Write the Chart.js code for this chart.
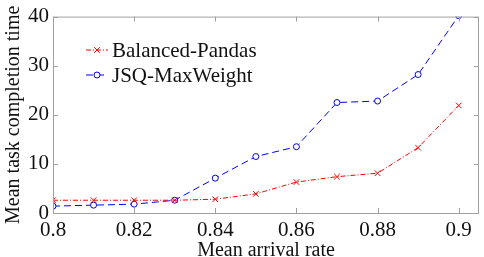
<!DOCTYPE html>
<html>
<head>
<meta charset="utf-8">
<script src="https://cdn.jsdelivr.net/npm/chart.js@4.4.1/dist/chart.umd.min.js"></script>
<style>
  html, body { margin: 0; padding: 0; background: #fff; }
  #wrap { width: 484px; height: 257px; }
</style>
</head>
<body>
<div id="wrap"><canvas id="grafico" width="484" height="257"></canvas></div>
<script>
// --- DATOS ---
const tasas = [0.8, 0.81, 0.82, 0.83, 0.84, 0.85, 0.86, 0.87, 0.88, 0.89, 0.9];
const balancedPandas = [2.6, 2.6, 2.6, 2.6, 2.8, 3.9, 6.3, 7.4, 8.1, 13.3, 21.9];
const jsqMaxWeight = [1.4, 1.6, 1.8, 2.6, 7.1, 11.5, 13.5, 22.5, 22.8, 28.2, 40.2];
const ticksX = [0.8, 0.82, 0.84, 0.86, 0.88, 0.9];
const ticksY = [0, 10, 20, 30, 40];

const fuente = 'Liberation Serif';
const colorEje = '#a0a0a0';

// caja y marcas hacia dentro (estilo MATLAB)
const cajaPlugin = {
  id: 'caja',
  afterDraw(chart) {
    const { ctx, chartArea: a, scales } = chart;
    ctx.save();
    ctx.strokeStyle = colorEje;
    ctx.lineWidth = 1;
    ctx.strokeRect(a.left + 0.5, a.top + 0.5, a.right - a.left - 1, a.bottom - a.top);
    ctx.beginPath();
    ticksX.forEach(v => {
      const x = Math.round(scales.x.getPixelForValue(v)) + 0.5;
      ctx.moveTo(x, a.bottom); ctx.lineTo(x, a.bottom - 5);
      ctx.moveTo(x, a.top); ctx.lineTo(x, a.top + 5);
    });
    ticksY.forEach(v => {
      const y = Math.round(scales.y.getPixelForValue(v)) + 0.5;
      ctx.moveTo(a.left, y); ctx.lineTo(a.left + 5, y);
      ctx.moveTo(a.right, y); ctx.lineTo(a.right - 5, y);
    });
    ctx.stroke();
    ctx.restore();
  }
};

// leyenda dibujada a mano dentro del área
const leyendaPlugin = {
  id: 'leyendaInterna',
  afterDraw(chart) {
    const { ctx } = chart;
    ctx.save();
    chart.data.datasets.forEach((ds, i) => {
      const y = 50 + i * 25;
      ctx.strokeStyle = ds.borderColor;
      ctx.lineWidth = 1;
      ctx.setLineDash(ds.borderDash);
      ctx.beginPath();
      ctx.moveTo(86, y); ctx.lineTo(108, y);
      ctx.stroke();
      ctx.setLineDash([]);
      ctx.fillStyle = '#ffffff';
      Chart.helpers.drawPoint(ctx, {
        pointStyle: ds.pointStyle, radius: ds.pointRadius, borderWidth: 1
      }, 97, y);
      ctx.font = '21px "Liberation Serif"';
      ctx.textBaseline = 'middle';
      ctx.textAlign = 'left';
      ctx.fillStyle = '#111';
      ctx.fillText(ds.label, 112, y + 1);
    });
    ctx.restore();
  }
};

new Chart(document.getElementById('grafico').getContext('2d'), {
  type: 'line',
  data: {
    datasets: [
      {
        label: 'Balanced-Pandas',
        data: tasas.map((t, i) => ({ x: t, y: balancedPandas[i] })),
        borderColor: '#ff0000',
        backgroundColor: 'transparent',
        borderWidth: 1,
        borderDash: [5, 2, 1, 2],
        pointStyle: 'crossRot',
        pointRadius: 4,
        pointBorderColor: '#ff0000',
        pointBorderWidth: 1,
        tension: 0
      },
      {
        label: 'JSQ-MaxWeight',
        data: tasas.map((t, i) => ({ x: t, y: jsqMaxWeight[i] })),
        borderColor: '#0000ff',
        backgroundColor: 'transparent',
        borderWidth: 1,
        borderDash: [7, 4],
        pointStyle: 'circle',
        pointRadius: 3,
        pointBorderColor: '#0000ff',
        pointBackgroundColor: '#ffffff',
        pointBorderWidth: 1,
        tension: 0
      }
    ]
  },
  options: {
    responsive: false,
    animation: false,
    devicePixelRatio: 1,
    layout: { padding: { top: 8, right: 2, left: 0, bottom: 0 } },
    plugins: { legend: { display: false }, tooltip: { enabled: false } },
    scales: {
      x: {
        type: 'linear',
        min: 0.8,
        max: 0.905,
        afterBuildTicks: s => { s.ticks = ticksX.map(v => ({ value: v })); },
        afterFit: s => { s.height = 44; },
        grid: { display: false, drawTicks: false },
        border: { display: false },
        ticks: {
          padding: 5,
          color: '#111',
          font: { family: fuente, size: 21 },
          callback: v => String(Number(v.toFixed(2)))
        },
        title: {
          display: true, text: 'Mean arrival rate', color: '#111',
          font: { family: fuente, size: 20, lineHeight: 1 }, padding: { top: 0, bottom: -4 }
        }
      },
      y: {
        min: 0,
        max: 40,
        afterBuildTicks: s => { s.ticks = ticksY.map(v => ({ value: v })); },
        afterFit: s => { s.width = 53; },
        grid: { display: false, drawTicks: false },
        border: { display: false },
        ticks: {
          padding: 4,
          color: '#111',
          font: { family: fuente, size: 21 }
        },
        title: {
          display: true, text: 'Mean task completion time', color: '#111',
          font: { family: fuente, size: 20 }, padding: { top: 2, bottom: 0 }
        }
      }
    }
  },
  plugins: [cajaPlugin, leyendaPlugin]
});
</script>
</body>
</html>
